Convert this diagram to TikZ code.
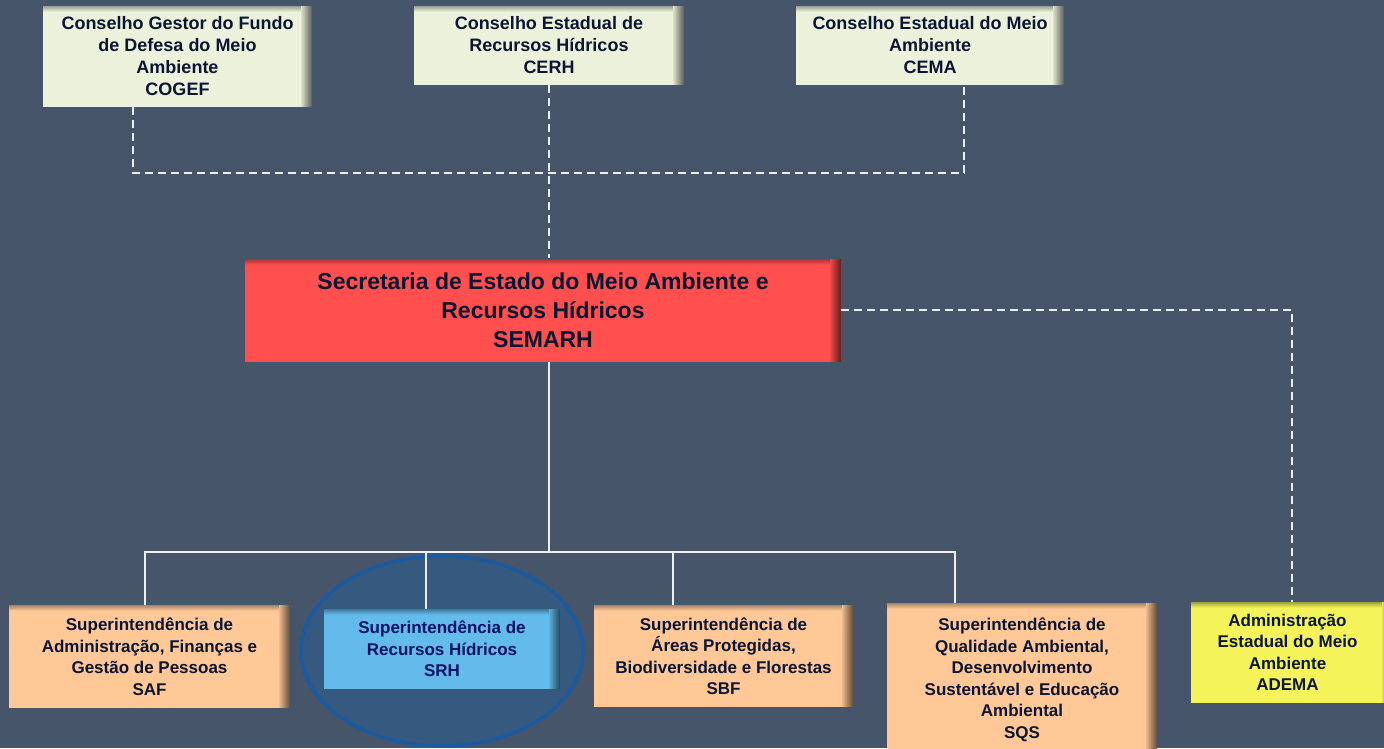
\documentclass[tikz,border=0pt]{standalone}
\usepackage{fontspec}
\setmainfont{Liberation Sans}
\definecolor{fundo}{HTML}{465569}
\definecolor{texto}{HTML}{0B1633}
\definecolor{creme}{HTML}{ECF1DC}
\definecolor{vermelho}{HTML}{FF4F4F}
\definecolor{pessego}{HTML}{FFC896}
\definecolor{azulclaro}{HTML}{63BBEB}
\definecolor{amarelo}{HTML}{F4F45A}
\definecolor{elipse}{HTML}{36597F}
\definecolor{bordaelipse}{HTML}{1A5AA0}
\definecolor{linha}{HTML}{EEEEEE}
\tikzset{orgbox/.style={rectangle, inner sep=0pt, align=center, text=texto, fill=#1,
  path picture={
    \foreach \i in {1,...,11}{
      \pgfmathtruncatemacro\tom{38+5*\i}
      \fill[#1!\tom!black] ([xshift=-\i pt]path picture bounding box.north east) rectangle ([xshift=-\i pt+1.05pt]path picture bounding box.south east);
    }
    \foreach \j in {0,...,5}{
      \pgfmathtruncatemacro\tom{66+6*\j}
      \fill[#1!\tom!black] ([yshift=-\j pt]path picture bounding box.north west) rectangle ([xshift=-11pt,yshift=-\j pt-1.05pt]path picture bounding box.north east);
    }
  }}}
\tikzstyle{conselho} = [orgbox=creme, font=\bfseries\fontsize{18}{22}\selectfont]
\tikzstyle{secretaria} = [orgbox=vermelho, font=\bfseries\fontsize{23}{29}\selectfont]
\tikzstyle{superint} = [font=\bfseries\fontsize{17}{21.5}\selectfont]
\tikzstyle{dashline} = [draw=linha, line width=1.8pt, dash pattern=on 8pt off 5pt]
\tikzstyle{solidline} = [draw=linha, line width=1.4pt]

\begin{document}
\begin{tikzpicture}[x=1pt, y=-1pt]
	\useasboundingbox[fill=fundo] (0,0) rectangle (1384,748);

	% conselhos
	\node (cogef) [conselho, minimum width=269pt, minimum height=101pt] at (177.5,56) {Conselho Gestor do Fundo\\de Defesa do Meio\\Ambiente\\COGEF};
	\node (cerh) [conselho, minimum width=270pt, minimum height=79pt] at (549,45) {Conselho Estadual de\\Recursos Hídricos\\CERH};
	\node (cema) [conselho, minimum width=268pt, minimum height=79pt] at (930,45) {Conselho Estadual do Meio\\Ambiente\\CEMA};

	\node (semarh) [secretaria, minimum width=596pt, minimum height=103pt] at (543,310) {Secretaria de Estado do Meio Ambiente e\\Recursos Hídricos\\SEMARH};

	% destaque da SRH
	\draw[fill=elipse, draw=bordaelipse, line width=3.5pt] (442,651) ellipse [x radius=141pt, y radius=95pt];

	% ligacoes
	\coordinate (topbus) at (549,173);
	\coordinate (bus) at (549,552);
	\draw [dashline] ([xshift=-44.5pt]cogef.south) |- (topbus) -| ([xshift=34pt]cema.south);
	\draw [dashline] (cerh.south) -- (cerh.south |- semarh.north);
	\draw [solidline] (cerh.south |- semarh.south) -- (bus);

	% superintendencias
	\node (saf) [orgbox=pessego, superint, minimum width=281pt, minimum height=103pt] at (149.5,656.5) {Superintendência de\\Administração, Finanças e\\Gestão de Pessoas\\SAF};
	\node (srh) [orgbox=azulclaro, superint, text=texto!75!blue, minimum width=236pt, minimum height=80pt] at (442,649) {Superintendência de\\Recursos Hídricos\\SRH};
	\node (sbf) [orgbox=pessego, superint, minimum width=259pt, minimum height=102pt] at (723.5,656) {Superintendência de\\Áreas Protegidas,\\Biodiversidade e Florestas\\SBF};
	\node (sqs) [orgbox=pessego, superint, minimum width=270pt, minimum height=154pt] at (1022,680) {Superintendência de\\Qualidade Ambiental,\\Desenvolvimento\\Sustentável e Educação\\Ambiental\\SQS};
	\node (adema) [orgbox=amarelo, superint, minimum width=202pt, minimum height=101pt] at (1292,652.5) {\hspace*{-9pt}Administração\\\hspace*{-9pt}Estadual do Meio\\\hspace*{-9pt}Ambiente\\\hspace*{-9pt}ADEMA};

	\draw [solidline] ([xshift=-4.5pt]saf.north) |- ([xshift=-67pt]sqs.north |- bus) -- ([xshift=-67pt]sqs.north);
	\draw [solidline] ([xshift=-16pt]srh.north) -- ([xshift=-16pt]srh.north |- bus);
	\draw [solidline] ([xshift=-50.5pt]sbf.north) -- ([xshift=-50.5pt]sbf.north |- bus);
	\draw [dashline] (semarh.east) -| (adema.north);
\end{tikzpicture}
\end{document}
